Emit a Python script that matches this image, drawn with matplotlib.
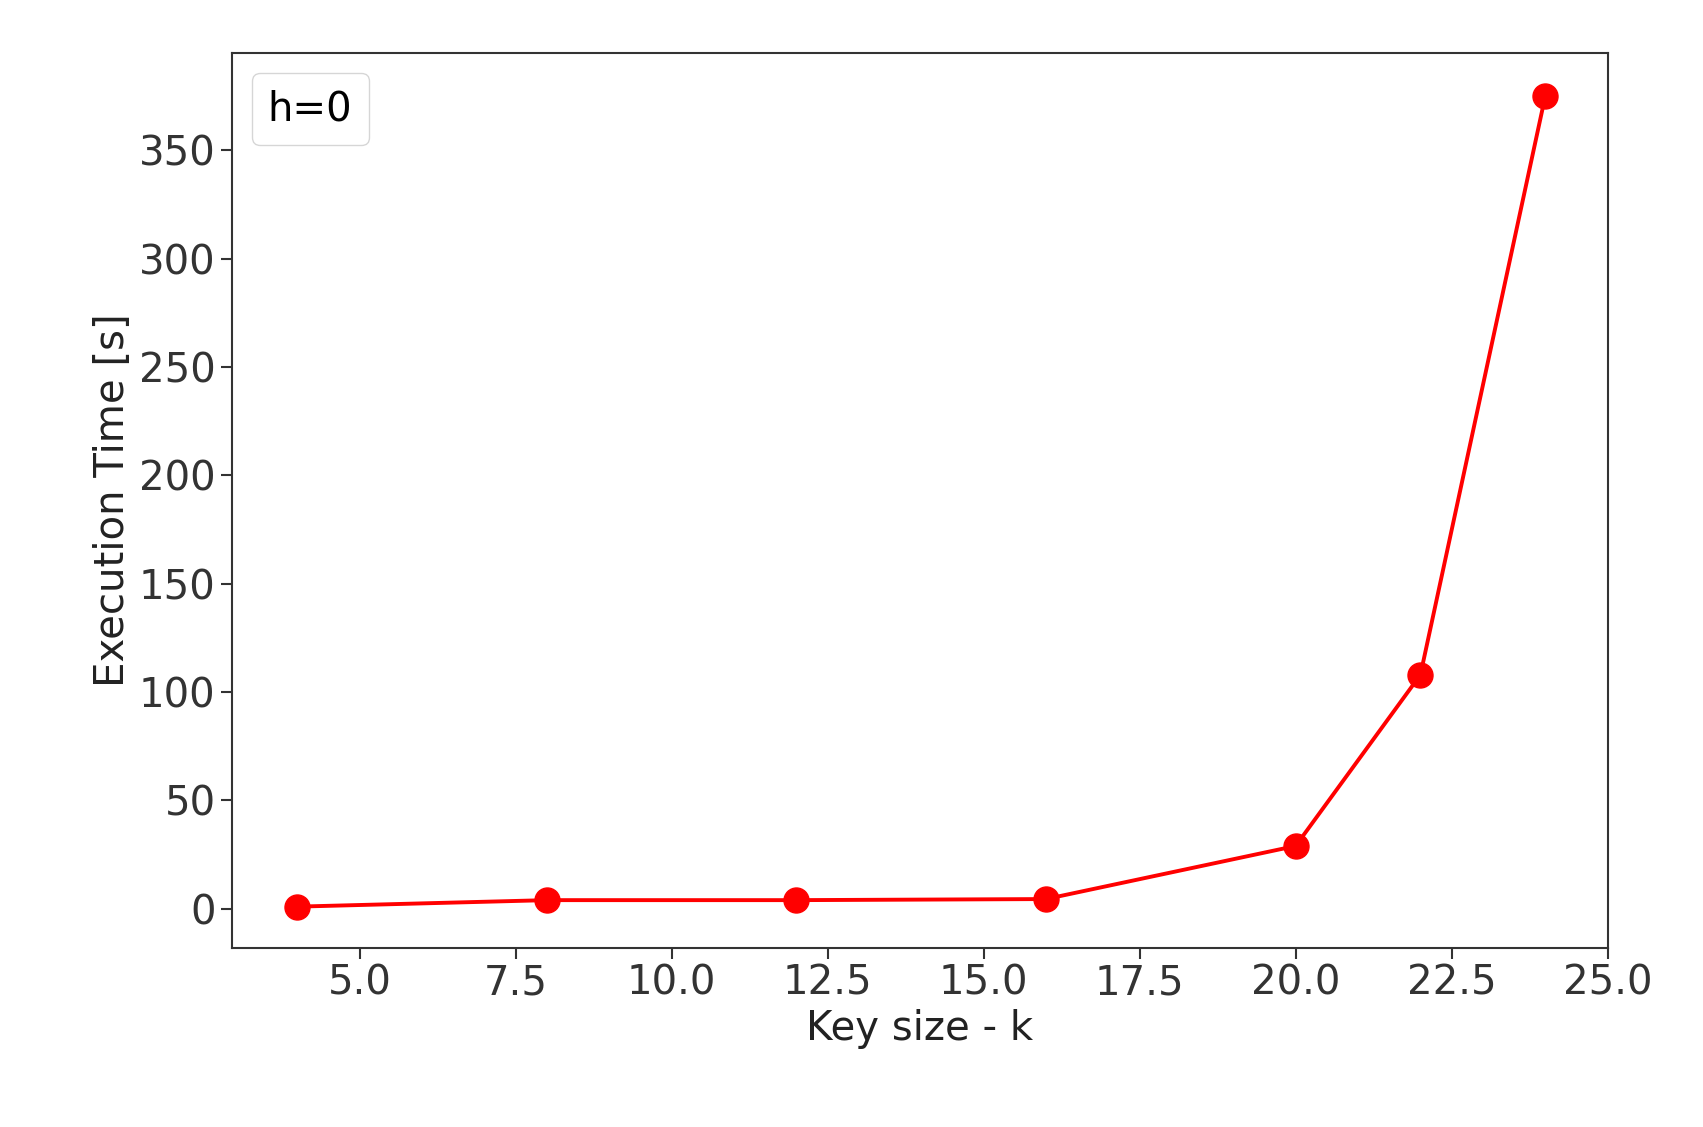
import matplotlib.pyplot as plt

key_size = [4, 8, 12, 16, 20, 22, 24]
exec_time = [1, 4, 4, 4.5, 29, 108, 375]

fig = plt.figure(figsize=(17.03, 11.27), dpi=100)
ax = fig.add_axes([0.136, 0.159, 0.808, 0.794])

ax.plot(key_size, exec_time, color='red', marker='o', markersize=18, linewidth=2.8, label='h=0')
ax.set_xlim(2.95, 25)
ax.set_ylim(-18, 395)
ax.set_xticks([5.0, 7.5, 10.0, 12.5, 15.0, 17.5, 20.0, 22.5, 25.0])
ax.set_yticks(range(0, 351, 50))
ax.tick_params(labelsize=29, length=8, width=1.5, colors='#333333')
ax.set_xlabel('Key size - k', fontsize=29, color='#222222')
ax.set_ylabel('Execution Time [s]', fontsize=29, color='#222222')
for s in ax.spines.values():
    s.set_linewidth(1.5)
    s.set_color('#333333')
ax.legend(loc='upper left', fontsize=29, handlelength=0, handletextpad=0, markerscale=0)

plt.savefig('out.png', dpi=100)
plt.close()
